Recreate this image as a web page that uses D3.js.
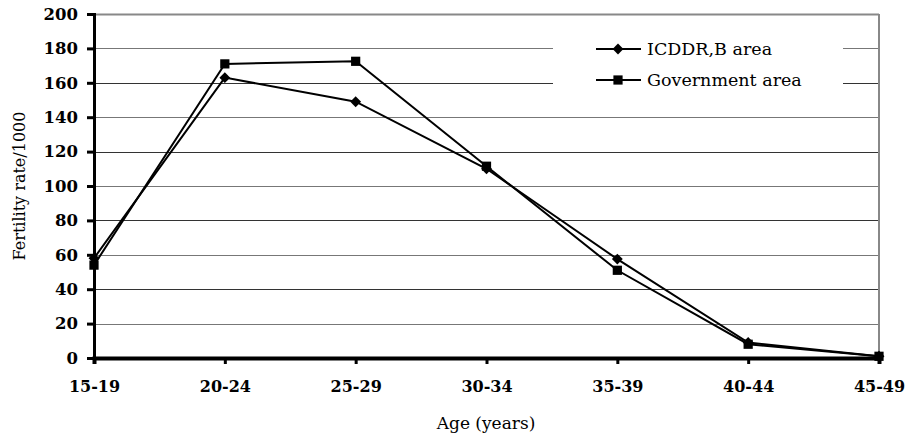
<!DOCTYPE html>
<html>
<head>
<meta charset="utf-8">
<script src="https://cdn.jsdelivr.net/npm/d3@7"></script>
<style>
  body { margin: 0; background: #fff; }
  svg text { font-family: "DejaVu Serif", serif; fill: #000; }
</style>
</head>
<body>
<div id="chart"></div>
<script>
(function() {
    // Values
    var ageGroups = ['15-19', '20-24', '25-29', '30-34', '35-39', '40-44', '45-49'];
    var icddrb = [58, 163, 149, 110, 57.5, 9, 1];
    var government = [54, 171, 172.5, 111.5, 51, 8, 1];
    var yTicks = [0, 20, 40, 60, 80, 100, 120, 140, 160, 180, 200];

    var width = 910;
    var height = 442;
    var margin = { top: 14, right: 31, bottom: 84, left: 94 };

    var svg = d3.select('#chart')
        .append('svg')
        .attr('width', width)
        .attr('height', height);

    var xScale = d3.scalePoint()
        .domain(ageGroups)
        .range([margin.left, width - margin.right]);

    var yScale = d3.scaleLinear()
        .domain([0, 200])
        .range([height - margin.bottom, margin.top]);

    // Gridlines
    svg.append('g')
        .selectAll('line')
        .data(yTicks.slice(1))
        .enter()
        .append('line')
        .attr('x1', margin.left)
        .attr('x2', width - margin.right)
        .attr('y1', d => Math.round(yScale(d)) + 0.5)
        .attr('y2', d => Math.round(yScale(d)) + 0.5)
        .attr('stroke', (d, i) => i % 2 ? '#333' : '#777')
        .attr('stroke-width', 1);

    // Gray plot border on top and right
    svg.append('line')
        .attr('x1', margin.left).attr('x2', width - margin.right)
        .attr('y1', margin.top + 0.5).attr('y2', margin.top + 0.5)
        .attr('stroke', '#888').attr('stroke-width', 2);
    svg.append('line')
        .attr('x1', width - margin.right).attr('x2', width - margin.right)
        .attr('y1', margin.top).attr('y2', height - margin.bottom)
        .attr('stroke', '#888').attr('stroke-width', 2);

    // Legend box covers the gridlines
    svg.append('rect')
        .attr('x', 553)
        .attr('y', 34)
        .attr('width', 290)
        .attr('height', 64)
        .attr('fill', '#fff');

    // Y axis
    var yAxis = svg.append('g')
        .attr('transform', `translate(${margin.left}, 0)`)
        .call(d3.axisLeft(yScale).tickValues(yTicks).tickSize(7).tickPadding(9));
    yAxis.select('.domain').attr('stroke', '#000').attr('stroke-width', 3);
    yAxis.selectAll('.tick line').attr('stroke', '#000').attr('stroke-width', 3);
    yAxis.selectAll('text')
        .style('font-family', '"DejaVu Serif", serif')
        .style('font-size', '16.5px')
        .style('font-weight', 'bold');

    // X axis
    var xAxis = svg.append('g')
        .attr('transform', `translate(0, ${height - margin.bottom})`)
        .call(d3.axisBottom(xScale).tickSize(6).tickPadding(17));
    xAxis.select('.domain').attr('stroke', '#000').attr('stroke-width', 4);
    xAxis.selectAll('.tick line').attr('stroke', '#000').attr('stroke-width', 3);
    xAxis.selectAll('text')
        .style('font-family', '"DejaVu Serif", serif')
        .style('font-size', '16px')
        .style('font-weight', 'bold');

    var line = d3.line()
        .x((d, i) => xScale(ageGroups[i]))
        .y(d => yScale(d));

    var diamond = d3.symbol().type(d3.symbolDiamond2).size(75);
    var square = d3.symbol().type(d3.symbolSquare).size(85);

    var series = [
        { name: 'ICDDR,B area', values: icddrb, symbol: diamond },
        { name: 'Government area', values: government, symbol: square }
    ];

    series.forEach(function(s) {
        svg.append('path')
            .datum(s.values)
            .attr('d', line)
            .attr('fill', 'none')
            .attr('stroke', '#000')
            .attr('stroke-width', 2);
        svg.append('g')
            .selectAll('path')
            .data(s.values)
            .enter()
            .append('path')
            .attr('d', s.symbol)
            .attr('transform', (d, i) => `translate(${xScale(ageGroups[i])}, ${yScale(d)})`)
            .attr('fill', '#000');
    });

    // Legend
    var legend = svg.append('g').attr('transform', 'translate(596, 49)');
    series.forEach(function(s, i) {
        var row = legend.append('g').attr('transform', `translate(0, ${i * 31})`);
        row.append('line')
            .attr('x1', 0).attr('x2', 45)
            .attr('y1', 0).attr('y2', 0)
            .attr('stroke', '#000').attr('stroke-width', 2);
        row.append('path')
            .attr('d', s.symbol)
            .attr('transform', 'translate(22, 0)')
            .attr('fill', '#000');
        row.append('text')
            .attr('x', 51)
            .attr('y', 6)
            .style('font-size', '17.5px')
            .text(s.name);
    });

    // Axis titles
    svg.append('text')
        .attr('x', 486)
        .attr('y', 429)
        .style('text-anchor', 'middle')
        .style('font-size', '17px')
        .text('Age (years)');

    svg.append('text')
        .attr('transform', 'rotate(-90)')
        .attr('x', -186)
        .attr('y', 25)
        .style('text-anchor', 'middle')
        .style('font-size', '16px')
        .text('Fertility rate/1000');
})();
</script>
</body>
</html>
